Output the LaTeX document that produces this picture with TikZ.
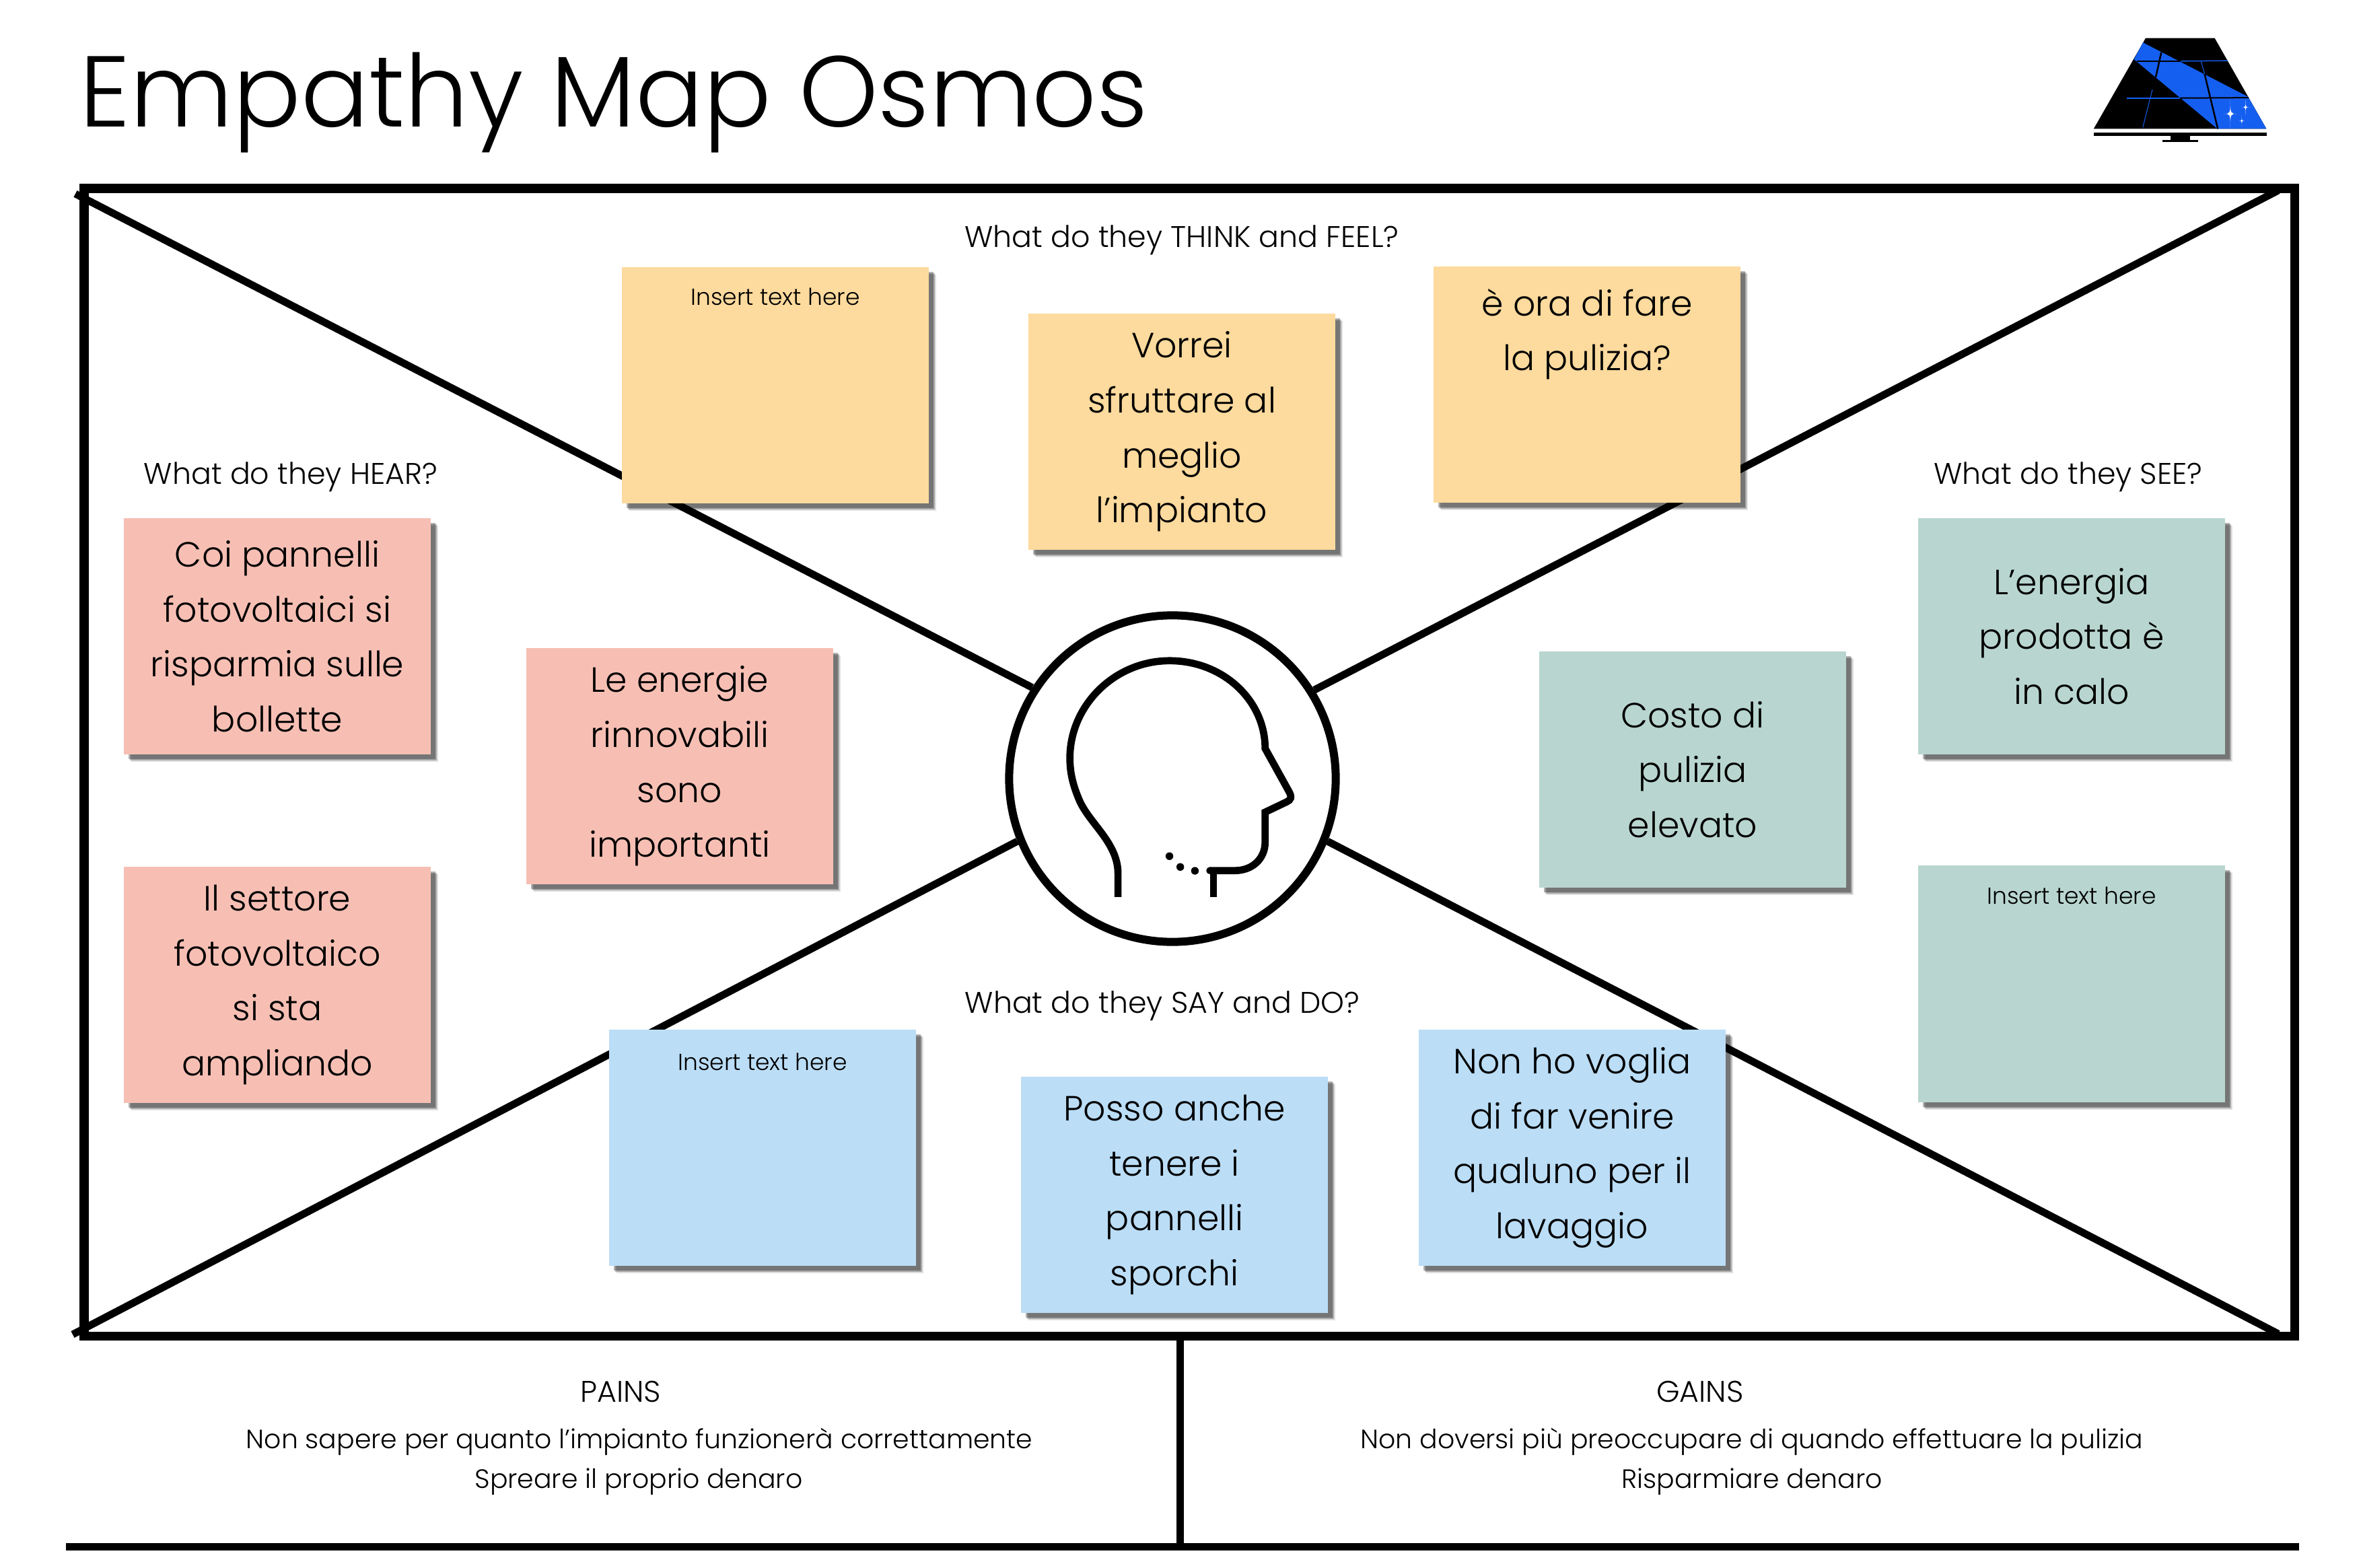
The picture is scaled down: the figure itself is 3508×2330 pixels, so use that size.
\documentclass[tikz,border=0pt]{standalone}
\usepackage{fontspec}
\usepackage{xcolor}
\usepackage{tikz}
\usetikzlibrary{shadows}
\setmainfont{Poppins}[UprightFont=* Light]

\definecolor{noteyellow}{HTML}{FDDA9D}
\definecolor{notepink}{HTML}{F7BFB4}
\definecolor{notegreen}{HTML}{B8D6CF}
\definecolor{noteblue}{HTML}{BBDDF6}
\definecolor{logoblue}{HTML}{155FF0}

\tikzset{
    note/.style={rectangle, inner sep=0pt, minimum width=4.56cm, minimum height=3.51cm, align=center,
        font=\fontsize{14.8}{23.2}\selectfont,
        drop shadow={shadow xshift=1.1mm, shadow yshift=-1.1mm, opacity=.12, fill=black},
        drop shadow={shadow xshift=0.9mm, shadow yshift=-0.9mm, opacity=.25, fill=black},
        drop shadow={shadow xshift=0.7mm, shadow yshift=-0.7mm, opacity=.30, fill=black}},
    heading/.style={inner sep=0pt, anchor=base, font=\fontsize{12.6}{15}\selectfont},
    inserttext/.style={inner sep=0pt, anchor=base, font=\fontsize{9.8}{12}\selectfont},
    bottomtext/.style={inner sep=0pt, anchor=base, font=\fontsize{11.2}{15}\selectfont},
    frameline/.style={line width=1.3mm},
    diagonal/.style={line width=1.1mm},
    headline/.style={line width=1.07mm}
}

\newcommand{\sparkle}[3]{
    \fill[white] (#1,#2-#3) .. controls (#1,#2) .. (#1+#3*0.48,#2)
        .. controls (#1,#2) .. (#1,#2+#3)
        .. controls (#1,#2) .. (#1-#3*0.48,#2)
        .. controls (#1,#2) .. cycle;
}

\begin{document}
\begin{tikzpicture}[x=0.01cm, y=-0.01cm]
    \useasboundingbox (0,0) rectangle (3508,2330);

    % Title
    \node[inner sep=0pt, anchor=base west, font=\fontsize{42.5}{50}\selectfont] (title) at (118,188) {Empathy Map Osmos};

    % Logo
    \begin{scope}[shift={(3000,0)}, x=0.00333cm, y=-0.00333cm]
        \fill (565,170) -- (873,170) -- (1104,575) -- (333,575) -- cycle;
        \fill[logoblue] (553,190) -- (1022,432) -- (1104,575) -- (885,575) -- (513,265) -- cycle;
        \fill (332,591) rectangle (1105,608);
        \fill (675,608) rectangle (762,626);
        \fill (640,626) rectangle (798,633);
        \draw[line width=0.25mm] (635,233) -- (610,345);
        \draw[line width=0.25mm] (828,330) -- (887,575);
        \draw[line width=0.2mm] (525,273) -- (722,273);
        \draw[line width=0.2mm] (718,438) -- (1025,436);
        \draw[logoblue, line width=0.15mm] (722,273) -- (930,271);
        \draw[logoblue, line width=0.15mm] (480,438) -- (718,438);
        \draw[logoblue, line width=0.1mm] (595,400) -- (552,570);
        \draw[logoblue, line width=0.1mm] (812,272) -- (828,330);
        \sparkle{943}{508}{65}
        \sparkle{1011}{479}{36}
        \sparkle{994}{540}{26}
    \end{scope}

    % Centre circle and diagonals
    \node[circle, draw, fill=white, line width=1.2mm, inner sep=0pt, minimum size=4.85cm] (head) at (1742,1157) {};
    \coordinate (tl) at (112,288);
    \coordinate (tr) at (3385,283);
    \coordinate (bl) at (108,1983);
    \coordinate (br) at (3385,1982);
    \draw[diagonal] (tl) -- (head.147.6);
    \draw[diagonal] (tr) -- (head.32.4);
    \draw[diagonal] (bl) -- (head.202.6);
    \draw[diagonal] (br) -- (head.-22.6);

    % Frame
    \draw[frameline] (125,280) rectangle (3409,1985);
    \coordinate (ruleleft) at (98,2298);
    \coordinate (ruleright) at (3416,2298);
    \coordinate (splittop) at (1753,1985);
    \coordinate (splitbot) at (1753,2298);
    \draw[frameline, line width=1.1mm] (ruleleft) -- (ruleright);
    \draw[frameline, line width=1.1mm] (splittop) -- (splitbot);

    % Head profile
    \begin{scope}[shift={(1460,880)}, x=0.00357cm, y=-0.00357cm]
        \draw[headline] (563,1268) -- (563,1170) .. controls (563,1040) and (440,960) .. (400,860)
            .. controls (375,800) and (363,750) .. (363,690)
            .. controls (363,470) and (550,285) .. (778,285)
            .. controls (1000,285) and (1175,450) .. (1175,650)
            -- (1272,825) .. controls (1290,855) and (1280,865) .. (1265,872)
            -- (1175,915) -- (1175,1040)
            .. controls (1175,1110) and (1120,1158) .. (1050,1158) -- (945,1158);
        \draw[headline] (960,1158) -- (960,1268);
        \fill (945,1158) circle (15);
        \fill (883,1159) circle (16);
        \fill (822,1143) circle (16);
        \fill (777,1098) circle (16);
    \end{scope}

    % Headings
    \node[heading] (think) at (1756,367) {What do they THINK and FEEL?};
    \node[heading] (hear) at (432,719) {What do they HEAR?};
    \node[heading] (see) at (3073,719) {What do they SEE?};
    \node[heading] (say) at (1727,1505) {What do they SAY and DO?};

    % Think and feel
    \node[note, fill=noteyellow] (think1) at (1152,572.5) {};
    \node[note, fill=noteyellow] (think2) at (1756,641.5) {Vorrei\\sfruttare al\\meglio\\l’impianto};
    \node[note, fill=noteyellow] (think3) at (2358,571.5) {è ora di fare\\la pulizia?\\\mbox{}\\\mbox{}};
    \node[inserttext] (thinkins) at (1152,453) {Insert text here};

    % Hear
    \node[note, fill=notepink] (hear1) at (412,945.5) {Coi pannelli\\fotovoltaici si\\risparmia sulle\\bollette};
    \node[note, fill=notepink] (hear2) at (1010,1138.5) {Le energie\\rinnovabili\\sono\\importanti};
    \node[note, fill=notepink] (hear3) at (412,1463.5) {Il settore\\fotovoltaico\\si sta\\ampliando};

    % See
    \node[note, fill=notegreen] (see1) at (3078,945.5) {L’energia\\prodotta è\\in calo};
    \node[note, fill=notegreen] (see2) at (2515,1143.5) {Costo di\\pulizia\\elevato};
    \node[note, fill=notegreen] (see3) at (3078,1462) {};
    \node[inserttext] (seeins) at (3078,1343) {Insert text here};

    % Say and do
    \node[note, fill=noteblue] (say1) at (1133,1705.5) {};
    \node[note, fill=noteblue] (say2) at (1745,1775.5) {Posso anche\\tenere i\\pannelli\\sporchi};
    \node[note, fill=noteblue] (say3) at (2336,1705.5) {Non ho voglia\\di far venire\\qualuno per il\\lavaggio};
    \node[inserttext] (sayins) at (1133,1590) {Insert text here};

    % Pains and gains
    \node[heading] (pains) at (922,2083) {PAINS};
    \node[bottomtext] (pains1) at (950,2152) {Non sapere per quanto l’impianto funzionerà correttamente};
    \node[bottomtext] (pains2) at (949,2211) {Spreare il proprio denaro};
    \node[heading] (gains) at (2526,2083) {GAINS};
    \node[bottomtext] (gains1) at (2603,2152) {Non doversi più preoccupare di quando effettuare la pulizia};
    \node[bottomtext] (gains2) at (2603,2211) {Risparmiare denaro};
\end{tikzpicture}
\end{document}
